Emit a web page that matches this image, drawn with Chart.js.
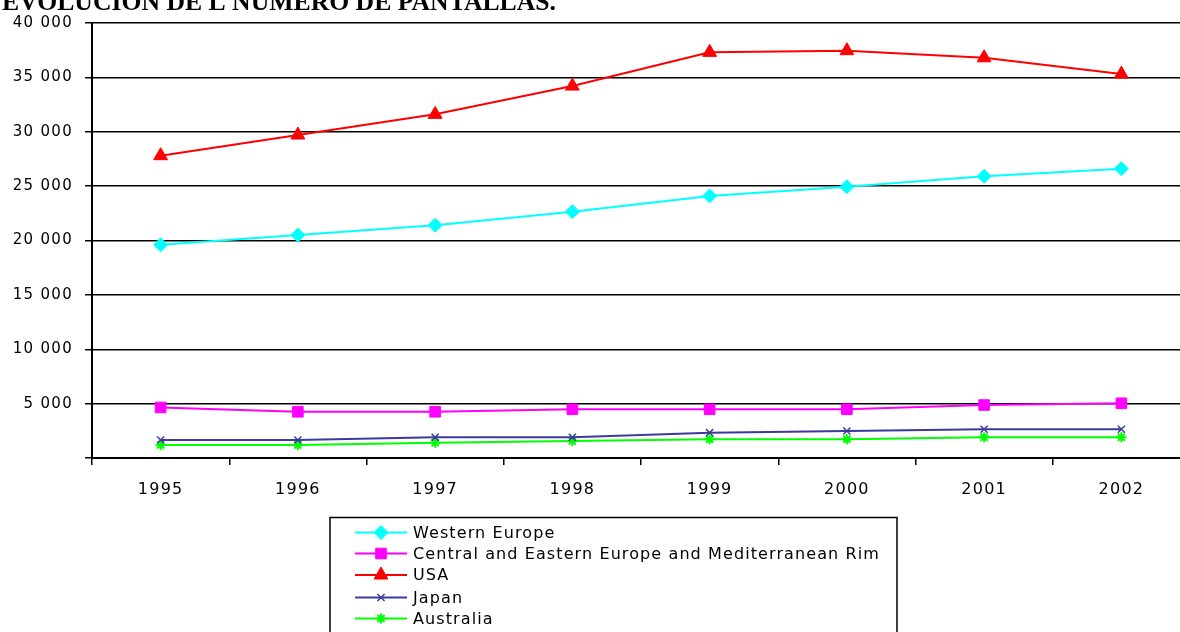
<!DOCTYPE html>
<html>
<head>
<meta charset="utf-8">
<script src="https://cdn.jsdelivr.net/npm/chart.js@4/dist/chart.umd.min.js"></script>
<style>
  html, body { margin: 0; padding: 0; background: #fff; overflow: hidden; }
  #wrap { position: relative; width: 1180px; height: 632px; overflow: hidden; }
  canvas { display: block; }
</style>
</head>
<body>
<div id="wrap"><canvas id="c" width="1199" height="632"></canvas></div>
<script>
// Screens per region, 1995–2002
const years = ['1995', '1996', '1997', '1998', '1999', '2000', '2001', '2002'];
const westernEurope = [19600, 20500, 21400, 22650, 24100, 24950, 25900, 26600];
const centralEastern = [4650, 4250, 4250, 4480, 4480, 4480, 4870, 5030];
const usa = [27800, 29700, 31600, 34200, 37300, 37450, 36800, 35300];
const japan = [1660, 1660, 1900, 1900, 2330, 2480, 2640, 2640];
const australia = [1200, 1200, 1410, 1560, 1720, 1720, 1900, 1900];

const seriesNames = [
  'Western Europe',
  'Central and Eastern Europe and Mediterranean Rim',
  'USA',
  'Japan',
  'Australia'
];
const yTicks = [0, 5000, 10000, 15000, 20000, 25000, 30000, 35000, 40000];

const titleText = 'EVOLUCIÓN DE L NÚMERO DE PANTALLAS.';
const FONT = 'DejaVu Sans';

function fmtThousands(v) {
  return String(v).replace(/\B(?=(\d{3})+(?!\d))/g, ' ');
}

function series(label, data, color, style, radius, extra) {
  return Object.assign({
    label, data,
    borderColor: color,
    backgroundColor: color,
    pointBackgroundColor: color,
    pointBorderColor: color,
    pointStyle: style,
    pointRadius: radius,
    pointHoverRadius: radius,
    pointBorderWidth: 1,
    borderWidth: 2,
    tension: 0,
    fill: false
  }, extra || {});
}

// Slightly spaced lettering for the axis labels
const spacing = {
  id: 'spacing',
  beforeDraw(chart) {
    chart.ctx.letterSpacing = '1.3px';
  },
  afterDraw(chart) {
    chart.ctx.letterSpacing = '0px';
  }
};

// Title along the top edge and the boxed legend below the axis
const decorations = {
  id: 'decorations',
  afterDraw(chart) {
    const ctx = chart.ctx;
    ctx.save();
    ctx.letterSpacing = '0px';
    ctx.fillStyle = '#000';
    ctx.font = 'bold 26px "Liberation Serif"';
    ctx.textBaseline = 'alphabetic';
    const w = ctx.measureText(titleText).width;
    ctx.translate(2, 9.5);
    ctx.scale(554 / w, 1);
    ctx.fillText(titleText, 0, 0);
    ctx.restore();

    ctx.save();
    ctx.strokeStyle = '#000';
    ctx.lineWidth = 1.5;
    ctx.strokeRect(330, 517.5, 567, 200);
    const rowsY = [532.5, 553.5, 575, 597.5, 618.5];
    ctx.font = '16px "' + FONT + '"';
    ctx.letterSpacing = '1.1px';
    ctx.textBaseline = 'middle';
    ctx.textAlign = 'left';
    chart.data.datasets.forEach((ds, i) => {
      const y = rowsY[i];
      ctx.strokeStyle = ds.borderColor;
      ctx.lineWidth = 2;
      ctx.beginPath();
      ctx.moveTo(355, y);
      ctx.lineTo(407, y);
      ctx.stroke();
      ctx.fillStyle = ds.pointBackgroundColor;
      ctx.strokeStyle = ds.pointBorderColor;
      ctx.lineWidth = ds.pointBorderWidth;
      Chart.helpers.drawPoint(ctx, {
        pointStyle: ds.pointStyle,
        radius: ds.pointRadius,
        rotation: 0,
        borderWidth: ds.pointBorderWidth
      }, 381, y);
      ctx.fillStyle = '#000';
      ctx.fillText(ds.label, 413, y + 1);
    });
    ctx.restore();
  }
};

new Chart(document.getElementById('c'), {
  type: 'line',
  data: {
    labels: years,
    datasets: [
      series(seriesNames[0], westernEurope, '#00FFFF', 'rectRot', 7),
      series(seriesNames[1], centralEastern, '#FF00FF', 'rect', 7.5),
      series(seriesNames[2], usa, '#FF0000', 'triangle', 8),
      series(seriesNames[3], japan, '#3B3B9E', 'crossRot', 5, { pointBorderWidth: 1.5 }),
      series(seriesNames[4], australia, '#00FF00', 'star', 5, { pointBorderWidth: 2 })
    ]
  },
  options: {
    responsive: false,
    animation: false,
    devicePixelRatio: 1,
    layout: { padding: { top: 23, left: 0, right: 0, bottom: 0 } },
    plugins: {
      legend: { display: false },
      title: { display: false },
      tooltip: { enabled: false }
    },
    scales: {
      x: {
        type: 'category',
        offset: true,
        grid: {
          offset: true,
          drawOnChartArea: false,
          drawTicks: true,
          tickLength: 7,
          color: '#000',
          lineWidth: 1.5
        },
        border: { color: '#000', width: 2 },
        ticks: {
          color: '#000',
          padding: 15,
          maxRotation: 0,
          font: { family: FONT, size: 16 }
        },
        afterFit(scale) { scale.height = 174; }
      },
      y: {
        min: 0,
        max: 40000,
        afterBuildTicks(scale) { scale.ticks = yTicks.map(v => ({ value: v })); },
        ticks: {
          color: '#000',
          padding: 12,
          font: { family: FONT, size: 15 },
          callback: v => (v === 0 ? '' : fmtThousands(v))
        },
        grid: {
          color: '#000',
          lineWidth: 1.5,
          tickLength: 7,
          drawTicks: true
        },
        border: { color: '#000', width: 2 },
        afterFit(scale) { scale.width = 92; }
      }
    }
  },
  plugins: [spacing, decorations]
});
</script>
</body>
</html>
